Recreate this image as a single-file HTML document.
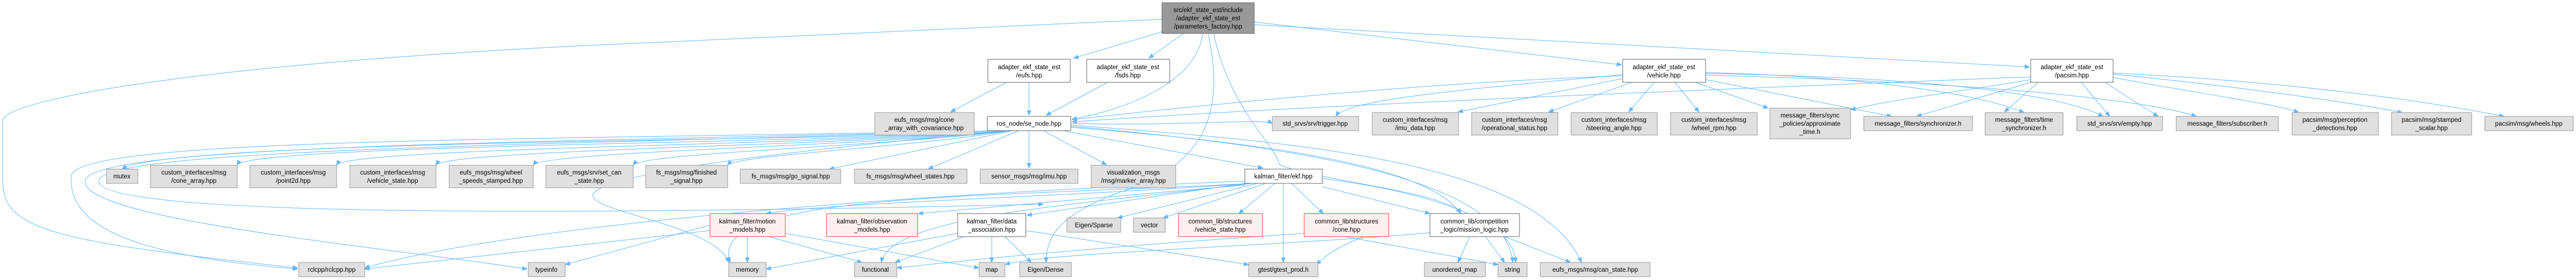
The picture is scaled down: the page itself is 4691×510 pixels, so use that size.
<!DOCTYPE html>
<html><head><meta charset="utf-8"><style>
html,body{margin:0;padding:0;background:#fff;}
svg{display:block;}
text{font-family:"Liberation Sans",Arial,sans-serif;font-size:11.5px;fill:#000;text-anchor:middle;}
.g{fill:#e0e0e0;stroke:#999;stroke-width:1;}
.w{fill:#fff;stroke:#666;stroke-width:1;}
.r{fill:#fff0f0;stroke:#ff4040;stroke-width:1;}
.t{fill:#999;stroke:#666;stroke-width:1;}
path{fill:none;stroke:#63b8ff;stroke-width:1;marker-end:url(#a);}
</style></head><body>
<svg width="4691" height="510" viewBox="0 0 4691 510" xmlns="http://www.w3.org/2000/svg">
<defs><marker id="a" viewBox="0 0 10 10" refX="10" refY="5" markerWidth="9" markerHeight="9" orient="auto" markerUnits="userSpaceOnUse"><path d="M0,1 L10,5 L0,9 z" style="fill:#63b8ff;stroke:#63b8ff;marker-end:none"/></marker></defs>

<path d="M2116 58 L1955 106"/>
<path d="M2155 61 L2092 106"/>
<path d="M2190 61 C2180 150,2050 200,1952 217"/>
<path d="M2284 40 L2953 118"/>
<path d="M2284 45 L3696 122"/>
<path d="M2210 61 C2240 200,2320 260,2330 300 C2400 330,2640 350,2660 389"/>
<path d="M2200 61 C2230 200,2200 300,2040 350 C1930 390,1905 430,1905 478"/>
<path d="M2116 35 L1200 77 C400 110,5 180,5 220 L5 330 C5 420,100 440,542 488"/>
<path d="M1833 150 L1731 204"/>
<path d="M1874 150 L1874 210"/>
<path d="M2017 150 L1905 210"/>
<path d="M2955 138 C2600 150,2200 190,1952 218"/>
<path d="M3698 140 C3200 160,2400 190,1952 222"/>
<path d="M2955 136 C2700 160,2450 180,2433 212"/>
<path d="M2955 143 L2655 204"/>
<path d="M2972 150 L2820 204"/>
<path d="M3012 150 L2966 204"/>
<path d="M3050 150 L3094 204"/>
<path d="M3088 150 L3220 197"/>
<path d="M3106 145 L3445 212"/>
<path d="M3106 132 C3400 140,3600 170,3686 205"/>
<path d="M3106 134 C3500 140,3750 170,3830 212"/>
<path d="M3106 137 C3600 150,3900 180,4000 212"/>
<path d="M3712 150 L3650 204"/>
<path d="M3790 150 L3842 212"/>
<path d="M3833 150 L3930 212"/>
<path d="M3848 141 C4000 170,4150 190,4186 205"/>
<path d="M3848 135 C4100 160,4300 190,4375 205"/>
<path d="M3848 133 C4200 150,4450 190,4560 212"/>
<path d="M3698 145 C3550 170,3450 180,3370 200"/>
<path d="M3698 150 L3490 212"/>
<path d="M1840 238 C1600 258,300 252,222 308"/>
<path d="M1840 238 C1600 260,450 262,432 301"/>
<path d="M1840 238 C1600 262,630 268,613 301"/>
<path d="M1840 238 C1600 264,810 272,794 301"/>
<path d="M1840 238 C1600 266,990 275,971 301"/>
<path d="M1840 238 C1600 268,1170 278,1153 301"/>
<path d="M1840 238 C1650 270,1340 282,1325 301"/>
<path d="M1845 238 L1510 308"/>
<path d="M1855 238 L1690 308"/>
<path d="M1874 238 L1874 306"/>
<path d="M1900 238 L2015 300"/>
<path d="M1935 238 L2300 306"/>
<path d="M1820 238 C1000 255,140 250,130 320 C120 430,300 470,542 490"/>
<path d="M1820 238 C1000 260,160 262,155 330 C150 400,700 450,960 490"/>
<path d="M1830 238 C1000 265,180 270,180 330 C180 390,900 395,1900 372"/>
<path d="M1830 238 C1500 270,1200 300,1100 340 C1000 380,1300 400,1327 478"/>
<path d="M1950 232 C2300 260,2600 300,2660 389"/>
<path d="M1950 230 C2400 270,2740 330,2755 478"/>
<path d="M1950 228 C2400 260,2800 300,2880 478"/>
<path d="M1950 225 C2150 230,2300 215,2317 225"/>
<path d="M2267 335 C1900 360,1500 370,1395 389"/>
<path d="M2267 337 L1672 389"/>
<path d="M2267 334 L1870 392"/>
<path d="M2290 334 L2035 397"/>
<path d="M2305 334 L2118 397"/>
<path d="M2322 334 L2256 389"/>
<path d="M2352 334 L2410 389"/>
<path d="M2408 340 L2604 389"/>
<path d="M2337 334 L2337 478"/>
<path d="M2280 334 C1800 360,1280 350,1330 478"/>
<path d="M2280 334 C2000 370,1620 390,1605 478"/>
<path d="M2267 330 C1500 360,900 420,664 488"/>
<path d="M2408 325 C2600 350,2760 400,2760 478"/>
<path d="M1361 431 L1361 478"/>
<path d="M1400 431 L1570 478"/>
<path d="M1430 425 L1783 488"/>
<path d="M1293 420 L664 490"/>
<path d="M1293 410 L1029 482"/>
<path d="M1744 425 L1395 490"/>
<path d="M1755 431 L1630 478"/>
<path d="M1806 431 L1806 478"/>
<path d="M1830 431 L1878 478"/>
<path d="M1868 420 L2274 482"/>
<path d="M2375 425 C2000 450,1800 470,1633 488"/>
<path d="M2450 431 L2728 482"/>
<path d="M2677 431 L2655 478"/>
<path d="M2705 431 L2740 478"/>
<path d="M2740 431 L2860 478"/>
<path d="M2604 424 C2300 450,1900 460,1830 482"/>
<path d="M2529 415 C2450 440,2420 460,2397 482"/>

<rect class="t" x="2116" y="5" width="168" height="56"/><text x="2200" y="22">src/ekf_state_est/include</text><text x="2200" y="37">/adapter_ekf_state_est</text><text x="2200" y="52">/parameters_factory.hpp</text>

<rect class="w" x="1799" y="108" width="150" height="42"/><text x="1874" y="126">adapter_ekf_state_est</text><text x="1874" y="141">/eufs.hpp</text>
<rect class="w" x="1979" y="108" width="151" height="42"/><text x="2054" y="126">adapter_ekf_state_est</text><text x="2054" y="141">/fsds.hpp</text>
<rect class="w" x="2955" y="108" width="151" height="42"/><text x="3030" y="126">adapter_ekf_state_est</text><text x="3030" y="141">/vehicle.hpp</text>
<rect class="w" x="3698" y="108" width="150" height="42"/><text x="3773" y="126">adapter_ekf_state_est</text><text x="3773" y="141">/pacsim.hpp</text>

<rect class="g" x="1593" y="205" width="181" height="41"/><text x="1683" y="222">eufs_msgs/msg/cone</text><text x="1683" y="237">_array_with_covariance.hpp</text>
<rect class="w" x="1798" y="212" width="152" height="26"/><text x="1874" y="229">ros_node/se_node.hpp</text>
<rect class="g" x="2317" y="212" width="157" height="26"/><text x="2395" y="229">std_srvs/srv/trigger.hpp</text>
<rect class="g" x="2499" y="205" width="157" height="41"/><text x="2577" y="222">custom_interfaces/msg</text><text x="2577" y="237">/imu_data.hpp</text>
<rect class="g" x="2680" y="205" width="157" height="41"/><text x="2758" y="222">custom_interfaces/msg</text><text x="2758" y="237">/operational_status.hpp</text>
<rect class="g" x="2861" y="205" width="157" height="41"/><text x="2939" y="222">custom_interfaces/msg</text><text x="2939" y="237">/steering_angle.hpp</text>
<rect class="g" x="3042" y="205" width="158" height="41"/><text x="3121" y="222">custom_interfaces/msg</text><text x="3121" y="237">/wheel_rpm.hpp</text>
<rect class="g" x="3223" y="197" width="147" height="56"/><text x="3296" y="214">message_filters/sync</text><text x="3296" y="229">_policies/approximate</text><text x="3296" y="244">_time.h</text>
<rect class="g" x="3394" y="212" width="198" height="26"/><text x="3493" y="229">message_filters/synchronizer.h</text>
<rect class="g" x="3615" y="205" width="142" height="41"/><text x="3686" y="222">message_filters/time</text><text x="3686" y="237">_synchronizer.h</text>
<rect class="g" x="3782" y="212" width="156" height="26"/><text x="3860" y="229">std_srvs/srv/empty.hpp</text>
<rect class="g" x="3963" y="212" width="186" height="26"/><text x="4056" y="229">message_filters/subscriber.h</text>
<rect class="g" x="4174" y="205" width="157" height="41"/><text x="4252" y="222">pacsim/msg/perception</text><text x="4252" y="237">_detections.hpp</text>
<rect class="g" x="4355" y="205" width="146" height="41"/><text x="4428" y="222">pacsim/msg/stamped</text><text x="4428" y="237">_scalar.hpp</text>
<rect class="g" x="4525" y="212" width="161" height="26"/><text x="4605" y="229">pacsim/msg/wheels.hpp</text>

<rect class="g" x="194" y="308" width="57" height="26"/><text x="222" y="325">mutex</text>
<rect class="g" x="274" y="301" width="158" height="41"/><text x="353" y="318">custom_interfaces/msg</text><text x="353" y="333">/cone_array.hpp</text>
<rect class="g" x="455" y="301" width="158" height="41"/><text x="534" y="318">custom_interfaces/msg</text><text x="534" y="333">/point2d.hpp</text>
<rect class="g" x="637" y="301" width="157" height="41"/><text x="715" y="318">custom_interfaces/msg</text><text x="715" y="333">/vehicle_state.hpp</text>
<rect class="g" x="818" y="301" width="153" height="41"/><text x="894" y="318">eufs_msgs/msg/wheel</text><text x="894" y="333">_speeds_stamped.hpp</text>
<rect class="g" x="994" y="301" width="159" height="41"/><text x="1073" y="318">eufs_msgs/srv/set_can</text><text x="1073" y="333">_state.hpp</text>
<rect class="g" x="1176" y="301" width="149" height="41"/><text x="1250" y="318">fs_msgs/msg/finished</text><text x="1250" y="333">_signal.hpp</text>
<rect class="g" x="1348" y="308" width="183" height="26"/><text x="1440" y="325">fs_msgs/msg/go_signal.hpp</text>
<rect class="g" x="1556" y="308" width="205" height="26"/><text x="1658" y="325">fs_msgs/msg/wheel_states.hpp</text>
<rect class="g" x="1785" y="308" width="178" height="26"/><text x="1874" y="325">sensor_msgs/msg/imu.hpp</text>
<rect class="g" x="1987" y="301" width="154" height="41"/><text x="2064" y="318">visualization_msgs</text><text x="2064" y="333">/msg/marker_array.hpp</text>
<rect class="w" x="2267" y="308" width="141" height="26"/><text x="2337" y="325">kalman_filter/ekf.hpp</text>

<rect class="r" x="1293" y="389" width="137" height="42"/><text x="1361" y="407">kalman_filter/motion</text><text x="1361" y="422">_models.hpp</text>
<rect class="r" x="1505" y="389" width="166" height="42"/><text x="1588" y="407">kalman_filter/observation</text><text x="1588" y="422">_models.hpp</text>
<rect class="w" x="1744" y="389" width="124" height="42"/><text x="1806" y="407">kalman_filter/data</text><text x="1806" y="422">_association.hpp</text>
<rect class="g" x="1943" y="397" width="98" height="26"/><text x="1992" y="414">Eigen/Sparse</text>
<rect class="g" x="2064" y="397" width="58" height="26"/><text x="2093" y="414">vector</text>
<rect class="r" x="2146" y="389" width="153" height="42"/><text x="2222" y="407">common_lib/structures</text><text x="2222" y="422">/vehicle_state.hpp</text>
<rect class="r" x="2375" y="389" width="154" height="42"/><text x="2452" y="407">common_lib/structures</text><text x="2452" y="422">/cone.hpp</text>
<rect class="w" x="2604" y="389" width="163" height="42"/><text x="2685" y="407">common_lib/competition</text><text x="2685" y="422">_logic/mission_logic.hpp</text>

<rect class="g" x="544" y="478" width="120" height="26"/><text x="604" y="495">rclcpp/rclcpp.hpp</text>
<rect class="g" x="962" y="478" width="67" height="26"/><text x="995" y="495">typeinfo</text>
<rect class="g" x="1327" y="478" width="68" height="26"/><text x="1361" y="495">memory</text>
<rect class="g" x="1556" y="478" width="77" height="26"/><text x="1594" y="495">functional</text>
<rect class="g" x="1783" y="478" width="47" height="26"/><text x="1806" y="495">map</text>
<rect class="g" x="1857" y="478" width="94" height="26"/><text x="1904" y="495">Eigen/Dense</text>
<rect class="g" x="2274" y="478" width="126" height="26"/><text x="2337" y="495">gtest/gtest_prod.h</text>
<rect class="g" x="2594" y="478" width="111" height="26"/><text x="2649" y="495">unordered_map</text>
<rect class="g" x="2728" y="478" width="53" height="26"/><text x="2754" y="495">string</text>
<rect class="g" x="2805" y="478" width="200" height="26"/><text x="2905" y="495">eufs_msgs/msg/can_state.hpp</text>
</svg>
</body></html>
